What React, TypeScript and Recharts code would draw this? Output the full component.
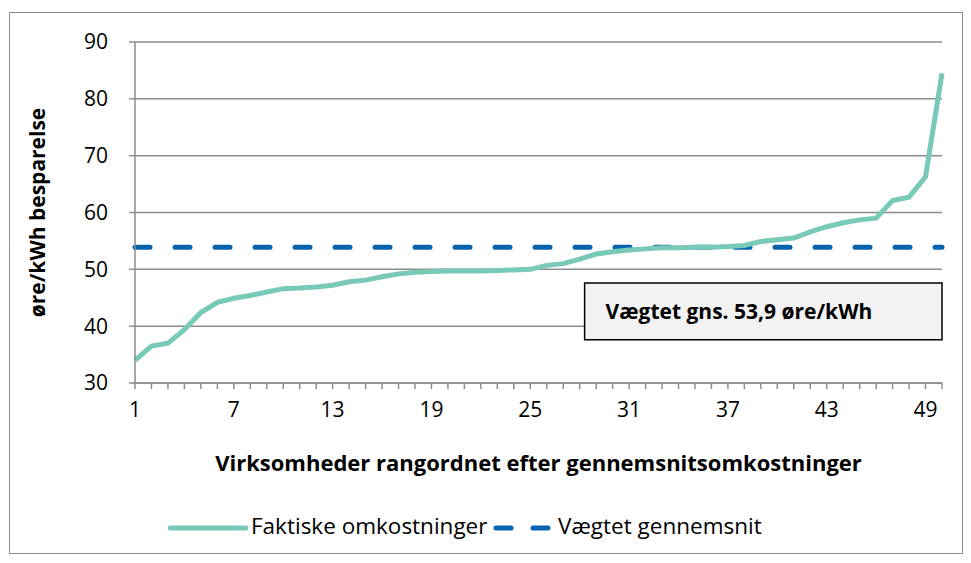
import React from 'react';
import { LineChart, Line, XAxis, YAxis, CartesianGrid, Legend, ReferenceArea } from 'recharts';

const ranks: number[] = Array.from({ length: 50 }, (_, i) => i + 1);
const actualCosts: number[] = [
  34.0, 36.5, 37.0, 39.4, 42.4, 44.2, 44.9, 45.4, 46.0, 46.6,
  46.7, 46.9, 47.2, 47.8, 48.1, 48.7, 49.2, 49.5, 49.6, 49.7,
  49.7, 49.7, 49.8, 49.9, 50.0, 50.7, 51.0, 51.8, 52.7, 53.1,
  53.4, 53.6, 53.8, 53.8, 53.9, 53.9, 54.0, 54.2, 54.9, 55.2,
  55.5, 56.6, 57.5, 58.2, 58.7, 59.0, 62.1, 62.7, 66.3, 84.5,
];
const weightedAverage = 53.9;
const yTicks: number[] = [30, 40, 50, 60, 70, 80, 90];
const xLabelTicks: number[] = [1, 7, 13, 19, 25, 31, 37, 43, 49];

const seriesNames = { actual: 'Faktiske omkostninger', avg: 'Vægtet gennemsnit' };
const xTitle = 'Virksomheder rangordnet efter gennemsnitsomkostninger';
const yTitle = 'øre/kWh besparelse';
const annotationText = 'Vægtet gns. 53,9 øre/kWh';

const data = ranks.map((r, i) => ({ rank: r, actual: actualCosts[i], avg: weightedAverage }));

const FONT = '"Open Sans", sans-serif';
const FS = 21;
const TEAL = '#78c9b8';
const BLUE = '#0563ae';
const GRID = '#8c8c8c';

const LegendContent = () => (
  <div style={{ position: 'relative', width: 971, height: 36, fontFamily: FONT, fontSize: 22.5, color: '#000' }}>
    <svg style={{ position: 'absolute', left: 168, top: 14 }} width={80} height={8}>
      <line x1={2} y1={4} x2={78} y2={4} stroke={TEAL} strokeWidth={5} strokeLinecap="round" />
    </svg>
    <span style={{ position: 'absolute', left: 251, top: 1, whiteSpace: 'nowrap', lineHeight: '30px' }}>{seriesNames.actual}</span>
    <svg style={{ position: 'absolute', left: 492, top: 14 }} width={60} height={8}>
      <line x1={4} y1={4} x2={56} y2={4} stroke={BLUE} strokeWidth={5} strokeLinecap="round" strokeDasharray="15 22" />
    </svg>
    <span style={{ position: 'absolute', left: 558, top: 1, whiteSpace: 'nowrap', lineHeight: '30px' }}>{seriesNames.avg}</span>
  </div>
);

export default function App() {
  return (
    <div style={{ position: 'absolute', left: 0, top: 0, width: 971, height: 563, background: '#fff' }}>
      <div style={{ position: 'absolute', left: 9, top: 12, width: 952, height: 540, border: '1px solid #8c8c8c' }} />
      <div style={{ position: 'absolute', left: 0, top: 0 }}>
        <LineChart width={971} height={563} data={data} margin={{ top: 42, right: 29, left: 0, bottom: 17 }}>
          <CartesianGrid horizontal vertical={false} stroke={GRID} strokeWidth={1.5} />
          <XAxis
            dataKey="rank"
            type="number"
            domain={[1, 50]}
            ticks={ranks}
            interval={0}
            tickFormatter={(v: number) => (xLabelTicks.includes(v) ? String(v) : '')}
            tick={{ fill: '#000', fontSize: FS, fontFamily: FONT }}
            tickSize={6}
            tickMargin={13}
            stroke={GRID}
            strokeWidth={1.5}
            height={127}
            label={{
              content: (props: any) => {
                const vb = props.viewBox || {};
                return (
                  <text x={vb.x + vb.width / 2} y={471} textAnchor="middle" fontFamily={FONT} fontSize={22} fontWeight="bold" fill="#000">
                    {xTitle}
                  </text>
                );
              },
            }}
          />
          <YAxis
            type="number"
            domain={[30, 90]}
            ticks={yTicks}
            interval={0}
            width={135}
            tick={{ fill: '#000', fontSize: FS, fontFamily: FONT }}
            tickSize={6}
            tickMargin={21}
            stroke={GRID}
            strokeWidth={1.5}
            label={{
              content: (props: any) => {
                const vb = props.viewBox || {};
                const cy = vb.y + vb.height / 2;
                return (
                  <text x={45} y={cy} transform={`rotate(-90 45 ${cy})`} textAnchor="middle" fontFamily={FONT} fontSize={21} fontWeight="bold" fill="#000">
                    {yTitle}
                  </text>
                );
              },
            }}
          />
          <ReferenceArea
            x1={28.3}
            x2={50}
            y1={37.6}
            y2={47.6}
            fill="#f2f2f2"
            fillOpacity={1}
            stroke="#000"
            strokeWidth={1.5}
            ifOverflow="visible"
            label={{
              content: (props: any) => {
                const vb = props.viewBox || {};
                return (
                  <text x={vb.x + 21} y={vb.y + vb.height / 2} dominantBaseline="central" fontFamily={FONT} fontSize={21} fontWeight="bold" fill="#000">
                    {annotationText}
                  </text>
                );
              },
            }}
          />
          <Line
            dataKey="avg"
            name={seriesNames.avg}
            stroke={BLUE}
            strokeWidth={5}
            strokeDasharray="15 25"
            strokeLinecap="round"
            dot={false}
            activeDot={false}
            isAnimationActive={false}
          />
          <Line
            dataKey="actual"
            name={seriesNames.actual}
            stroke={TEAL}
            strokeWidth={5}
            dot={false}
            activeDot={false}
            isAnimationActive={false}
          />
          <Legend verticalAlign="bottom" wrapperStyle={{ height: 36 }} content={() => <LegendContent />} />
        </LineChart>
      </div>
    </div>
  );
}
